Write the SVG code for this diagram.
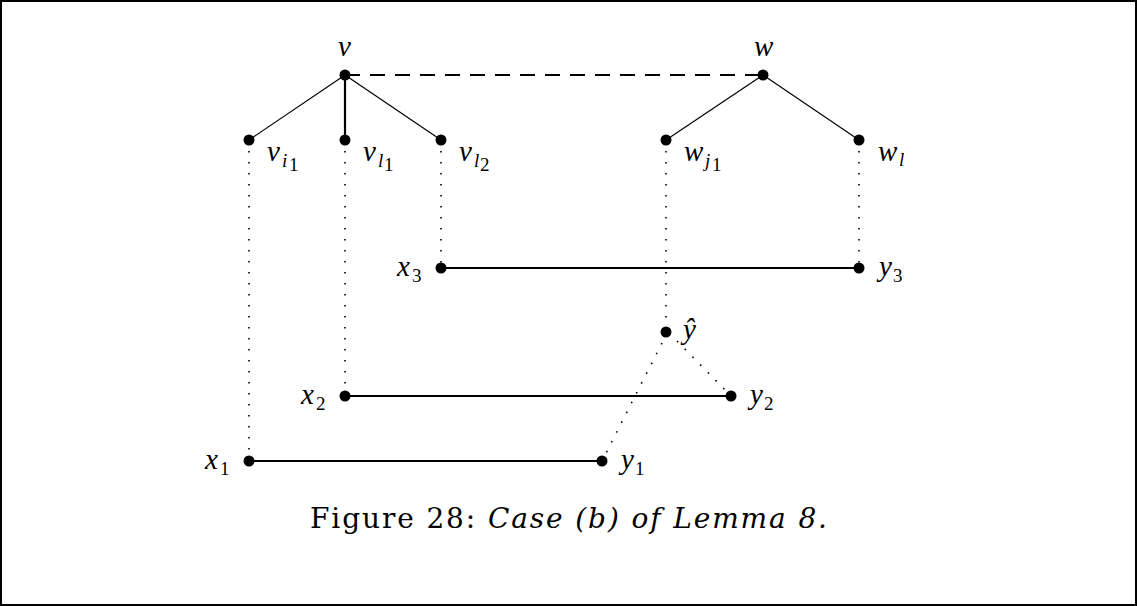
<svg xmlns="http://www.w3.org/2000/svg" width="1137" height="606" viewBox="0 0 1137 606">
<style>
.m{font-family:"Liberation Serif",serif;font-style:italic;font-size:29px;fill:#000}
.s{font-family:"Liberation Serif",serif;font-size:19px;fill:#000}
.si{font-family:"Liberation Serif",serif;font-style:italic;font-size:19px;fill:#000}
.cap{font-family:"DejaVu Serif","Liberation Serif",serif;font-size:28px;fill:#000}
.thin{stroke:#000;stroke-width:1.2;fill:none}
.thick{stroke:#000;stroke-width:2.2;fill:none}
.dot{stroke:#000;stroke-width:1.6;stroke-dasharray:1.6 9.4;fill:none}
.dash{stroke:#000;stroke-width:2;stroke-dasharray:15 10;fill:none}
circle{fill:#000}
</style>
<rect x="1" y="1" width="1135" height="604" fill="#fff" stroke="#000" stroke-width="2"/>
<g id="connectors">
<line class="dash" x1="345" y1="75" x2="763" y2="75"/>
<line class="thin" x1="345" y1="75" x2="249" y2="140"/>
<line class="thick" x1="345" y1="75" x2="345" y2="140"/>
<line class="thin" x1="345" y1="75" x2="441" y2="140"/>
<line class="thin" x1="763" y1="75" x2="666" y2="140"/>
<line class="thin" x1="763" y1="75" x2="859" y2="140"/>
<line class="thick" x1="441" y1="268" x2="859" y2="268"/>
<line class="thick" x1="345" y1="396" x2="731" y2="396"/>
<line class="thick" x1="249" y1="461" x2="602" y2="461"/>
<line class="dot" x1="249" y1="151" x2="249" y2="461"/>
<line class="dot" x1="345" y1="151" x2="345" y2="396"/>
<line class="dot" x1="441" y1="151" x2="441" y2="268"/>
<line class="dot" x1="666" y1="151" x2="666" y2="332"/>
<line class="dot" x1="859" y1="151" x2="859" y2="268"/>
<line class="dot" x1="662" y1="343" x2="602" y2="461"/>
<line class="dot" x1="677" y1="341" x2="731" y2="396"/>
</g>
<g id="v"><circle cx="345" cy="75" r="5.5"/><text class="m" x="338" y="56">v</text></g>
<g id="w"><circle cx="763" cy="75" r="5.5"/><text class="m" x="754" y="56">w</text></g>
<g id="v_i1"><circle cx="249" cy="140" r="5.5"/><text class="m" x="267" y="161">v</text><text class="si" x="282" y="167">i</text><text class="s" x="289" y="171">1</text></g>
<g id="v_l1"><circle cx="345" cy="140" r="5.5"/><text class="m" x="363" y="161">v</text><text class="si" x="378" y="167">l</text><text class="s" x="384" y="171">1</text></g>
<g id="v_l2"><circle cx="441" cy="140" r="5.5"/><text class="m" x="459" y="161">v</text><text class="si" x="474" y="167">l</text><text class="s" x="480" y="171">2</text></g>
<g id="w_j1"><circle cx="666" cy="140" r="5.5"/><text class="m" x="684" y="161">w</text><text class="si" x="705" y="167">j</text><text class="s" x="712" y="171">1</text></g>
<g id="w_l"><circle cx="859" cy="140" r="5.5"/><text class="m" x="878" y="161">w</text><text class="si" x="899" y="166">l</text></g>
<g id="x3"><circle cx="441" cy="268" r="5.5"/><text class="m" x="397" y="276">x</text><text class="s" x="412" y="282">3</text></g>
<g id="y3"><circle cx="859" cy="268" r="5.5"/><text class="m" x="879" y="276">y</text><text class="s" x="893" y="282">3</text></g>
<g id="yhat"><circle cx="666" cy="332" r="5.5"/><text class="m" x="683" y="339">ŷ</text></g>
<g id="x2"><circle cx="345" cy="396" r="5.5"/><text class="m" x="301" y="404">x</text><text class="s" x="316" y="410">2</text></g>
<g id="y2"><circle cx="731" cy="396" r="5.5"/><text class="m" x="750" y="404">y</text><text class="s" x="764" y="410">2</text></g>
<g id="x1"><circle cx="249" cy="461" r="5.5"/><text class="m" x="205" y="469">x</text><text class="s" x="220" y="475">1</text></g>
<g id="y1"><circle cx="602" cy="461" r="5.5"/><text class="m" x="621" y="469">y</text><text class="s" x="635" y="475">1</text></g>
<text class="cap" x="310" y="528" textLength="517" lengthAdjust="spacing">Figure 28: <tspan font-style="italic">Case (b) of Lemma 8.</tspan></text>
</svg>
